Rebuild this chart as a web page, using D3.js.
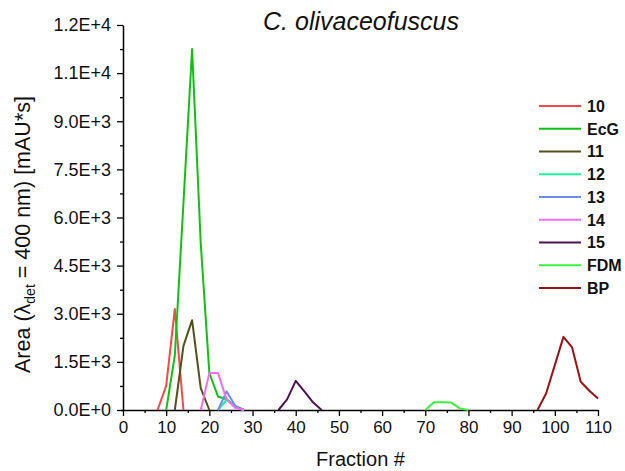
<!DOCTYPE html>
<html>
<head>
<meta charset="utf-8">
<script src="https://cdn.jsdelivr.net/npm/d3@7"></script>
<style>
  html, body { margin: 0; padding: 0; background: #fff; }
  svg { display: block; font-family: "Liberation Sans", Arial, sans-serif; }
</style>
</head>
<body>
<svg id="chart" width="625" height="471"></svg>
<script>
// Fractions collected and the peak area measured in each
const s10x  = [8, 10, 12, 14];
const s10y  = [0, 750, 3150, 0];
const ecgX  = [10, 12, 14, 16, 18, 20, 22, 24, 26, 28];
const ecgY  = [0, 1700, 6450, 11250, 5200, 1150, 420, 330, 120, 0];
const s11x  = [12, 14, 16, 18, 20];
const s11y  = [0, 2000, 2800, 680, 0];
const s12x  = [22, 24, 26, 28];
const s12y  = [0, 320, 100, 0];
const s13x  = [22, 24, 26, 28];
const s13y  = [0, 580, 130, 0];
const s14x  = [18, 20, 22, 24, 26, 28];
const s14y  = [0, 1150, 1150, 330, 60, 0];
const s15x  = [36, 38, 40, 42, 44, 46];
const s15y  = [0, 330, 910, 580, 240, 0];
const fdmX  = [70, 72, 74, 76, 78, 80];
const fdmY  = [0, 240, 240, 230, 50, 0];
const bpX   = [96, 98, 100, 102, 104, 106, 108, 110];
const bpY   = [0, 520, 1400, 2280, 1950, 880, 600, 360];

const seriesNames  = ["10", "EcG", "11", "12", "13", "14", "15", "FDM", "BP"];
const seriesColors = ["#f24a4a", "#12c012", "#545019", "#1cf59a", "#6d8bf0", "#f86cf4", "#4a1550", "#3cf23c", "#981414"];

const xTicks = [0, 10, 20, 30, 40, 50, 60, 70, 80, 90, 100, 110];
const yTicks = [0, 1500, 3000, 4500, 6000, 7500, 9000, 10500, 12000];

const series = [
  [s10x, s10y], [ecgX, ecgY], [s11x, s11y], [s12x, s12y], [s13x, s13y],
  [s14x, s14y], [s15x, s15y], [fdmX, fdmY], [bpX, bpY]
].map(([xs, ys], i) => ({
  name: seriesNames[i],
  color: seriesColors[i],
  points: xs.map((x, j) => ({ x, y: ys[j] }))
}));

const svg = d3.select("#chart");
const margin = { left: 123, right: 27, top: 25, bottom: 61 };
const W = 625, H = 471;

const x = d3.scaleLinear().domain([0, 110]).range([margin.left, W - margin.right]);
const y = d3.scaleLinear().domain([0, 12000]).range([H - margin.bottom, margin.top]);

// Minor ticks halfway between the labelled ones
const xMinor = d3.range(5, 110, 10);
const yMinor = d3.range(750, 12000, 1500);

svg.append("g")
  .attr("transform", `translate(0,${y(0)})`)
  .call(d3.axisBottom(x).tickValues(xMinor).tickSize(3).tickSizeOuter(0).tickFormat(""))
  .call(g => g.select(".domain").remove())
  .selectAll("line").attr("stroke", "#000").attr("stroke-width", 1.3);

svg.append("g")
  .attr("transform", `translate(${x(0)},0)`)
  .call(d3.axisLeft(y).tickValues(yMinor).tickSize(3).tickSizeOuter(0).tickFormat(""))
  .call(g => g.select(".domain").remove())
  .selectAll("line").attr("stroke", "#000").attr("stroke-width", 1.3);

const fmtY = v => v.toExponential(1).toUpperCase();

const xAxis = svg.append("g")
  .attr("transform", `translate(0,${y(0)})`)
  .call(d3.axisBottom(x).tickValues(xTicks).tickSize(6).tickSizeOuter(0).tickPadding(5));
xAxis.select(".domain").attr("stroke", "#000").attr("stroke-width", 1.5)
  .attr("d", `M${x(0) - 2},0.5H${x(110)}`);
xAxis.selectAll(".tick line").attr("stroke", "#000").attr("stroke-width", 1.3);
xAxis.selectAll(".tick text").attr("font-size", 17).attr("fill", "#111")
  .attr("font-family", "Liberation Sans, Arial, sans-serif");

const yAxis = svg.append("g")
  .attr("transform", `translate(${x(0)},0)`)
  .call(d3.axisLeft(y).tickValues(yTicks).tickSize(6).tickSizeOuter(0).tickPadding(6).tickFormat(fmtY));
yAxis.select(".domain").attr("stroke", "#000").attr("stroke-width", 1.5);
yAxis.selectAll(".tick line").attr("stroke", "#000").attr("stroke-width", 1.3);
yAxis.selectAll(".tick text").attr("font-size", 18).attr("fill", "#111")
  .attr("font-family", "Liberation Sans, Arial, sans-serif");

// Data lines
const line = d3.line().x(d => x(d.x)).y(d => y(d.y));
svg.append("g").selectAll("path")
  .data(series)
  .join("path")
  .attr("d", d => line(d.points))
  .attr("fill", "none")
  .attr("stroke", d => d.color)
  .attr("stroke-width", 2)
  .attr("stroke-linejoin", "round");

// Title
svg.append("text")
  .attr("x", 361).attr("y", 30)
  .attr("text-anchor", "middle")
  .attr("font-size", 25)
  .attr("font-style", "italic")
  .attr("fill", "#111")
  .text("C. olivaceofuscus");

// Axis titles
svg.append("text")
  .attr("x", (x(0) + x(110)) / 2).attr("y", 466)
  .attr("text-anchor", "middle")
  .attr("font-size", 20)
  .attr("fill", "#111")
  .text("Fraction #");

const yTitle = svg.append("text")
  .attr("transform", `translate(30,${(y(0) + y(12000)) / 2 + 17}) rotate(-90)`)
  .attr("text-anchor", "middle")
  .attr("font-size", 21.5)
  .attr("fill", "#111");
yTitle.append("tspan").text("Area (λ");
yTitle.append("tspan").attr("font-size", 14).attr("dy", 5).text("det");
yTitle.append("tspan").attr("dy", -5).text(" = 400 nm) [mAU*s]");

// Legend
const legend = svg.append("g");
const rows = legend.selectAll("g")
  .data(series)
  .join("g")
  .attr("transform", (d, i) => `translate(539,${106 + i * 22.75})`);
rows.append("line")
  .attr("x1", 0).attr("x2", 42)
  .attr("stroke", d => d.color).attr("stroke-width", 2);
rows.append("text")
  .attr("x", 48).attr("dy", "0.36em")
  .attr("font-size", 16).attr("font-weight", "bold")
  .attr("fill", "#111")
  .text(d => d.name);
</script>
</body>
</html>
